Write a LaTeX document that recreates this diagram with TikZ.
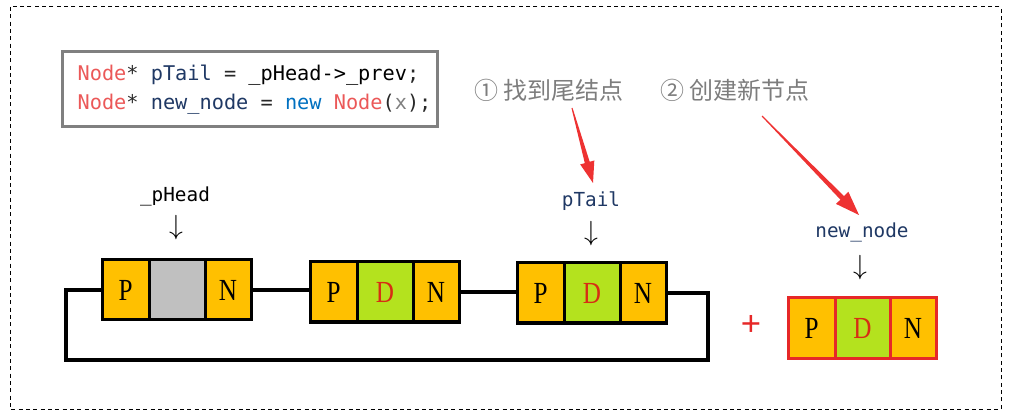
\documentclass[tikz,border=0pt]{standalone}
\usepackage{fontspec}
\setmainfont{Liberation Serif}
\newfontfamily\cellfont{Liberation Serif}[FakeStretch=0.82]
\newfontfamily\cjk{Noto Sans CJK SC}
\newfontfamily\codefont{DejaVu Sans Mono}
\newfontfamily\plusfont{Liberation Sans}
\usetikzlibrary{calc}
\definecolor{cellY}{RGB}{255,192,0}
\definecolor{cellG}{RGB}{180,226,30}
\definecolor{cellGray}{RGB}{192,192,192}
\definecolor{dRed}{RGB}{215,45,20}
\definecolor{newRed}{RGB}{230,40,40}
\definecolor{arrRed}{RGB}{238,50,50}
\definecolor{nodeRed}{RGB}{235,88,88}
\definecolor{navy}{RGB}{31,56,100}
\definecolor{kwBlue}{RGB}{0,112,192}
\definecolor{boxGray}{RGB}{128,128,128}
\definecolor{lblGray}{RGB}{125,125,125}
\definecolor{punct}{RGB}{40,40,40}
\newcommand\tapered[5]{% tail, tip, tail halfwidth, head length, head halfwidth
  \coordinate (#1#2H) at ($(#2)!#4!(#1)$);
  \fill[arrRed] ($(#1)!#3!90:(#2)$) -- ($(#1#2H)!1.9pt!-90:(#1)$) -- ($(#1#2H)!#5!-90:(#1)$) -- (#2)
    -- ($(#1#2H)!#5!90:(#1)$) -- ($(#1#2H)!1.9pt!90:(#1)$) -- ($(#1)!#3!-90:(#2)$) -- cycle;}
\begin{document}
\begin{tikzpicture}[x=0.75pt,y=-0.75pt,
  cell/.style={draw=black, line width=2.25pt, minimum height=45pt, inner sep=0pt, outer sep=0pt,
    font=\cellfont\fontsize{23}{23}\selectfont},
  pcell/.style={cell, fill=cellY, minimum width=35.25pt},
  dcell/.style={cell, fill=cellG, minimum width=42pt, text=dRed},
  hcell/.style={cell, fill=cellGray, minimum width=42pt},
  ncell/.style={cell, fill=cellY, minimum width=34.5pt},
  newc/.style={draw=newRed},
  link/.style={line width=3.4pt, black},
  ptrlabel/.style={font=\codefont\fontsize{14.5}{14.5}\selectfont, inner sep=0pt},
  downarr/.style={font=\fontsize{20}{20}\selectfont, inner sep=0pt},
  codebox/.style={draw=boxGray, line width=2.25pt, minimum width=281.25pt, minimum height=56.25pt, outer sep=0pt, inner sep=0pt},
  codetext/.style={font=\codefont\fontsize{15.2}{21.75}\selectfont, align=left, inner sep=0pt, text=punct},
  steplabel/.style={font=\cjk\fontsize{18}{18}\selectfont, text=lblGray, inner sep=0pt}
]
\useasboundingbox (0,0) rectangle (1009,416);
\draw[line width=0.75pt, dash pattern=on 3pt off 2.5pt] (10,7) rectangle (1001,409);

% code box
\node[codebox] (code) at (249.5,89.5) {};
\node[codetext, anchor=west] (codetxt) at ([xshift=11.5pt]code.west)
 {\textcolor{nodeRed}{Node}* \textcolor{navy}{pTail} = \textcolor{black}{\_pHead->\_prev};\\
  \textcolor{nodeRed}{Node}* \textcolor{navy}{new\_node} = \textcolor{kwBlue}{new} \textcolor{nodeRed}{Node}(\textcolor{boxGray}{x});};

% step labels
\node[steplabel] (s1) at (549,90) {① 找到尾结点};
\node[steplabel] (s2) at (735,90) {② 创建新节点};

% list nodes
\node[pcell] (h1p) at (125.5,290) {P};
\node[hcell, anchor=west] (h1d) at (h1p.east) {};
\node[ncell, anchor=west] (h1n) at (h1d.east) {N};

\node[pcell] (n2p) at (333.5,292) {P};
\node[dcell, anchor=west] (n2d) at (n2p.east) {D};
\node[ncell, anchor=west] (n2n) at (n2d.east) {N};

\node[pcell] (n3p) at (540.5,293) {P};
\node[dcell, anchor=west] (n3d) at (n3p.east) {D};
\node[ncell, anchor=west] (n3n) at (n3d.east) {N};

% new node
\node[pcell, newc] (nwp) at (811.5,328) {P};
\node[dcell, newc, anchor=west, minimum width=41.25pt] (nwd) at (nwp.east) {D};
\node[ncell, newc, anchor=west] (nwn) at (nwd.east) {N};
\draw[newRed, line width=2.25pt] (nwp.north west) rectangle (nwn.south east);

% plus
\node[font=\plusfont\fontsize{26}{26}\selectfont, text=newRed, inner sep=0pt] (plus) at (751,325) {+};

% links
\coordinate (cR) at (708,360);
\coordinate (cL) at (66,360);
\draw[link] (h1n.east) -- (h1n.east -| n2p.west);
\draw[link] (n2n.east) -- (n2n.east -| n3p.west);
\draw[link] (n3n.east) -| (cR) -- (cL) |- (h1p.west);

% pointer labels
\node[ptrlabel] (lh) at (175,196) {\_pHead};
\node[downarr] (ah) at (176,228) {$\downarrow$};
\node[ptrlabel, text=navy] (lt) at (591,201) {pTail};
\node[downarr] (at) at (591,234) {$\downarrow$};
\node[ptrlabel, text=navy] (ln) at (862,232) {new\_node};
\node[downarr] (an) at (860,268) {$\downarrow$};

% red arrows
\coordinate (t1) at (572,108);
\coordinate (e1) at (593,183);
\coordinate (t2) at (762,116);
\coordinate (e2) at (859,215);
\tapered{t1}{e1}{0.4pt}{16pt}{5.5pt}
\tapered{t2}{e2}{0.4pt}{18pt}{6.5pt}
\end{tikzpicture}
\end{document}
